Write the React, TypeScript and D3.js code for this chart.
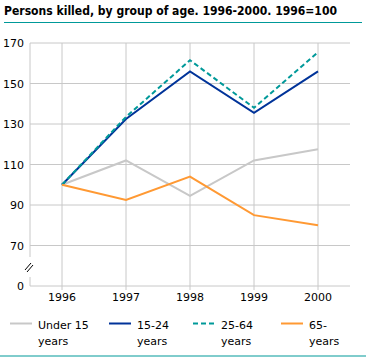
import React from "react";
import * as d3 from "d3";

const years = ["1996", "1997", "1998", "1999", "2000"];
const under15 = [100, 112, 94.5, 112, 117.5];
const age15_24 = [100, 132.5, 156, 135.5, 156];
const age25_64 = [100, 133.5, 161.5, 138, 165.5];
const age65 = [100, 92.5, 104, 85, 80];
const yTicks = [70, 90, 110, 130, 150, 170];

const seriesNames = [["Under 15", "years"], ["15-24", "years"], ["25-64", "years"], ["65-", "years"]];
const seriesData = [under15, age15_24, age25_64, age65];
const colors = ["#c8c8c8", "#003399", "#009999", "#ff9933"];
const dashes = [null, null, "5,3", null];

export default function App() {
  const W = 366, H = 357;
  const left = 30, right = 350, top = 43, bottom = 286;
  const x = d3.scaleBand<string>().domain(years).range([left, right]);
  const y = d3.scaleLinear().domain([50, 170]).range([bottom, top]);
  const cx = (yr: string) => (x(yr) as number) + x.bandwidth() / 2;
  const line = d3.line<number>().x((_, i) => cx(years[i])).y((v) => y(v));
  const font = "Tahoma, 'DejaVu Sans', Verdana, sans-serif";
  const legendX = [10, 109, 193, 281];
  return (
    <svg width={W} height={H} style={{ position: "absolute", left: 0, top: 0, background: "#fff" }} fontFamily={font}>
      <text x={4} y={15} fontSize={12.5} fontWeight="bold" fill="#000" fontFamily="'DejaVu Sans Condensed', 'DejaVu Sans', sans-serif"
        textLength={333} lengthAdjust="spacingAndGlyphs">
        Persons killed, by group of age. 1996-2000. 1996=100
      </text>
      <line x1={4} x2={362} y1={22.5} y2={22.5} stroke="#009999" strokeWidth={1} />
      {yTicks.map((t) => (
        <g key={t}>
          <line x1={left} x2={right} y1={y(t)} y2={y(t)} stroke="#c8c8c8" strokeWidth={1} />
          <text x={24} y={y(t) + 4} fontSize={11} textAnchor="end">{t}</text>
        </g>
      ))}
      <line x1={left} x2={right} y1={bottom} y2={bottom} stroke="#c8c8c8" strokeWidth={1} />
      <text x={24} y={bottom + 4} fontSize={11} textAnchor="end">0</text>
      {years.map((yr) => (
        <g key={yr}>
          <line x1={cx(yr)} x2={cx(yr)} y1={top} y2={bottom + 4} stroke="#c8c8c8" strokeWidth={1} />
          <text x={cx(yr)} y={bottom + 15} fontSize={11} textAnchor="middle">{yr}</text>
        </g>
      ))}
      <line x1={left} x2={left} y1={top} y2={257} stroke="#c8c8c8" strokeWidth={1} />
      <line x1={left} x2={left} y1={277} y2={bottom} stroke="#c8c8c8" strokeWidth={1} />
      <line x1={25} x2={31} y1={270} y2={263} stroke="#000" strokeWidth={1} />
      <line x1={27} x2={33} y1={272} y2={265} stroke="#000" strokeWidth={1} />
      {seriesData.map((d, i) => (
        <path key={i} d={line(d) as string} fill="none" stroke={colors[i]} strokeWidth={2}
          strokeDasharray={dashes[i] ?? undefined} />
      ))}
      {seriesNames.map((n, i) => (
        <g key={i}>
          <line x1={legendX[i]} x2={legendX[i] + 22} y1={323.5} y2={323.5} stroke={colors[i]} strokeWidth={2}
            strokeDasharray={dashes[i] ?? undefined} />
          <text x={legendX[i] + 28} y={329} fontSize={11}>{n[0]}</text>
          <text x={legendX[i] + 28} y={345} fontSize={11}>{n[1]}</text>
        </g>
      ))}
      <line x1={0} x2={366} y1={356} y2={356} stroke="#009999" strokeWidth={1} />
    </svg>
  );
}
